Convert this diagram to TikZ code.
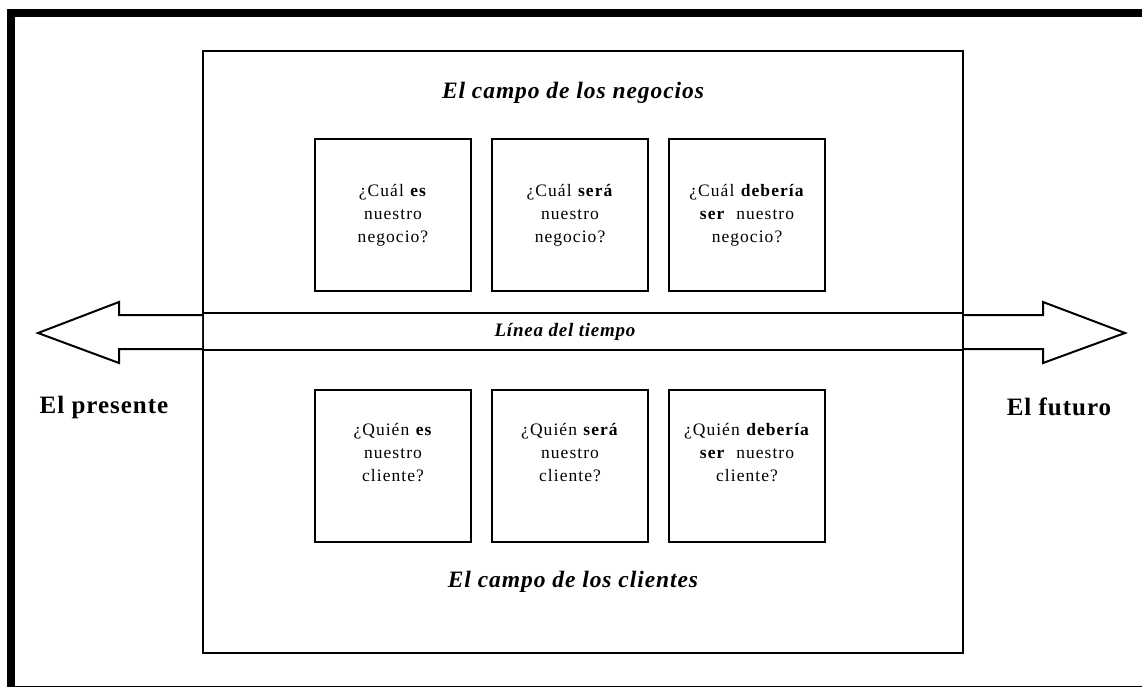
\documentclass[tikz,border=0pt]{standalone}
\usepackage{fontspec}
\setmainfont{Liberation Serif}
\newfontfamily\boxfont[LetterSpace=6]{Liberation Serif}
\newfontfamily\widefont[LetterSpace=4]{Liberation Serif}
\begin{document}
\begin{tikzpicture}[x=1pt,y=-1pt,
  field/.style={draw,line width=2pt,minimum width=760pt,minimum height=602pt,inner sep=0pt},
  qbox/.style={draw,line width=2pt,minimum width=156pt,minimum height=152pt,inner sep=0pt,
    align=center,font=\boxfont\fontsize{17.5}{23}\selectfont},
  title/.style={font=\widefont\bfseries\itshape\fontsize{23.5}{27}\selectfont},
  side/.style={font=\widefont\bfseries\fontsize{25}{29}\selectfont},
  band/.style={draw,line width=2pt,minimum width=760pt,minimum height=37pt,inner sep=0pt},
  bandtext/.style={font=\widefont\bfseries\itshape\fontsize{19}{22}\selectfont},
  bigarrow/.style={draw,line width=2pt,line join=miter,fill=white}]
\useasboundingbox (0,0) rectangle (1142,688);
% outer frame (cropped at the right)
\coordinate (fTR) at (1142,13);
\coordinate (fTL) at (11,13);
\coordinate (fBL) at (11,686.5);
\coordinate (fBR) at (1142,686.5);
\draw[line width=8pt] (fTR) -- (fTL) -- (fBL);
\draw[line width=1.5pt] (fBL) -- (fBR);
% big field rectangle
\node[field] (F) at (583,352) {};
% timeline band
\node[band] (T) at (583,331.5) {};
\node[bandtext] (Tl) at (565,332) {L\'inea del tiempo};
% arrows
\draw[bigarrow] (T.west |- 0,315) -- (119,315) -- (119,302) -- (38,333)
  -- (119,363) -- (119,349) -- (T.west |- 0,349);
\draw[bigarrow] (T.east |- 0,315) -- (1043,315) -- (1043,302) -- (1125,333)
  -- (1043,363) -- (1043,349) -- (T.east |- 0,349);
% titles
\node[title] (tN) at (573,93) {El campo de los negocios};
\node[title] (tC) at (573,582) {El campo de los clientes};
\node[side] (pres) at (104,407) {El presente};
\node[side] (fut) at (1059,407) {El futuro};
% question boxes
\node[qbox] (n1) at (393,215) {¿Cuál \textbf{es}\\nuestro\\negocio?};
\node[qbox] (n2) at (570,215) {¿Cuál \textbf{será}\\nuestro\\negocio?};
\node[qbox] (n3) at (747,215) {¿Cuál \textbf{debería}\\\textbf{ser}\ \ nuestro\\negocio?};
\node[qbox] (c1) at (393,465.5) {¿Quién \textbf{es}\\nuestro\\cliente?\\[4pt]};
\node[qbox] (c2) at (570,465.5) {¿Quién \textbf{será}\\nuestro\\cliente?\\[4pt]};
\node[qbox] (c3) at (747,465.5) {¿Quién \textbf{debería}\\\textbf{ser}\ \ nuestro\\cliente?\\[4pt]};
\end{tikzpicture}
\end{document}
